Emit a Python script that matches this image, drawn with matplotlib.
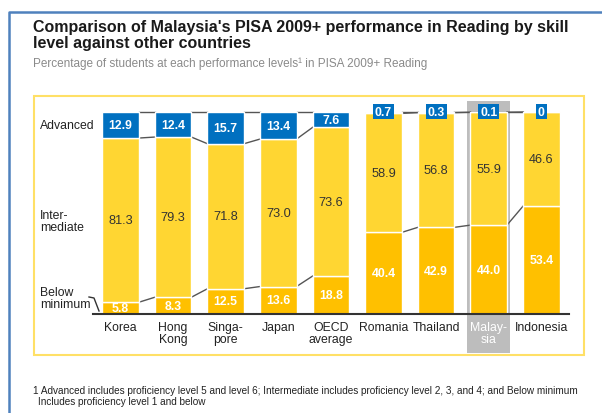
import matplotlib.pyplot as plt
from matplotlib.patches import Rectangle

plt.rcParams['font.family'] = ['Liberation Sans', 'DejaVu Sans']

countries = ["Korea", "Hong\nKong", "Singa-\npore", "Japan", "OECD\naverage",
             "Romania", "Thailand", "Malay-\nsia", "Indonesia"]
below = [5.8, 8.3, 12.5, 13.6, 18.8, 40.4, 42.9, 44.0, 53.4]
inter = [81.3, 79.3, 71.8, 73.0, 73.6, 58.9, 56.8, 55.9, 46.6]
advanced = [12.9, 12.4, 15.7, 13.4, 7.6, 0.7, 0.3, 0.1, 0]
adv_labels = ["12.9", "12.4", "15.7", "13.4", "7.6", "0.7", "0.3", "0.1", "0"]
row_labels = ["Advanced", "Inter-\nmediate", "Below\nminimum"]
highlight = 7   # Malaysia
gap_after = 4   # no connectors between OECD and Romania

title1 = "Comparison of Malaysia's PISA 2009+ performance in Reading by skill"
title2 = "level against other countries"
subtitle = "Percentage of students at each performance levels\u00b9 in PISA 2009+ Reading"
foot1 = ("1 Advanced includes proficiency level 5 and level 6; Intermediate includes "
         "proficiency level 2, 3, and 4; and Below minimum")
foot2 = "Includes proficiency level 1 and below"

BLUE = '#0070C0'
YEL = '#FFD632'
GOLD = '#FFC000'
GRAY = '#BDBDBD'

W, H = 602, 414
fig = plt.figure(figsize=(6.02, 4.14), dpi=100)


def fx(x):
    return x / W


def fy(y):
    return 1 - y / H


# outer frame (blue) and chart box (light yellow)
fig.add_artist(plt.Line2D([fx(8.5), fx(8.5), 1], [0, fy(12.5), fy(12.5)],
                          color='#4F81BD', lw=1.8, transform=fig.transFigure))
fig.add_artist(Rectangle((fx(34), fy(356)), fx(584) - fx(34), (356 - 97) / H,
                         fill=False, ec='#FFE066', lw=1.5, transform=fig.transFigure))

# bar axes: baseline at y=315px, 100% at y=113px, bar pitch 52.6px
ax = fig.add_axes([fx(34), fy(315), fx(584) - fx(34), (315 - 113) / H])
ax.set_xlim((34 - 120.5) / 52.6, (584 - 120.5) / 52.6)
ax.set_ylim(0, 100)
ax.axis('off')

x = list(range(len(countries)))
w = 0.694

# Malaysia highlight
ax.add_patch(Rectangle((highlight - 0.41, -19.3), 0.82, 124.8, fc=GRAY, ec='none',
                       zorder=0, clip_on=False))

ax.bar(x, below, w, color=GOLD, ec='white', lw=1, zorder=2)
ax.bar(x, inter, w, bottom=below, color=YEL, ec='white', lw=1, zorder=2)
bot2 = [b + m for b, m in zip(below, inter)]
ax.bar(x, advanced, w, bottom=bot2, color=BLUE, ec='white', lw=1, zorder=2)

# connectors
for i in range(len(x) - 1):
    if i == gap_after:
        continue
    for a, b in [(below[i], below[i + 1]), (bot2[i], bot2[i + 1]), (100, 100)]:
        ax.plot([i + w / 2, i + 1 - w / 2], [a, b], color='#555555', lw=1,
                zorder=1, clip_on=False)

# value labels
for i in x:
    ax.text(i, below[i] / 2, f"{below[i]:.1f}", ha='center', va='center',
            color='white', fontsize=8.8, fontweight='bold', zorder=4)
    ax.text(i, below[i] + inter[i] / 2, f"{inter[i]:.1f}", ha='center', va='center',
            color='#333333', fontsize=9.2, zorder=4)
    if advanced[i] >= 5:
        ax.text(i, bot2[i] + advanced[i] / 2, adv_labels[i], ha='center',
                va='center', color='white', fontsize=8.8, fontweight='bold', zorder=4)
    else:
        ax.text(i, 100.2, adv_labels[i], ha='center', va='center', color='white',
                fontsize=8.8, fontweight='bold', zorder=4, clip_on=False,
                bbox=dict(boxstyle='square,pad=0.15', fc=BLUE, ec='none'))

# baseline
ax.plot([-0.523, 8.527], [0, 0], color='#333333', lw=1.5, zorder=5, clip_on=False)

# category labels
for i, name in enumerate(countries):
    ax.text(i, -3.4, name, ha='center', va='top', fontsize=8.8, linespacing=1.05,
            color='white' if i == highlight else '#222222', clip_on=False)

# row labels
fig.text(fx(40), fy(126), row_labels[0], ha='left', va='center', fontsize=8.8,
         color='#222222')
fig.text(fx(40), fy(222), row_labels[1], ha='left', va='center', fontsize=8.8,
         color='#222222', linespacing=1.05)
fig.text(fx(40), fy(299), row_labels[2], ha='left', va='center', fontsize=8.8,
         color='#222222', linespacing=1.05)
fig.add_artist(plt.Line2D([fx(89), fx(94), fx(99)], [fy(298), fy(299), fy(312)],
                          color='#333333', lw=1, transform=fig.transFigure))

# titles and footnote
fig.text(fx(33), fy(31.7), title1, ha='left', va='baseline', fontsize=11.5,
         fontweight='bold', color='#1a1a1a')
fig.text(fx(33), fy(47.7), title2, ha='left', va='baseline', fontsize=11.5,
         fontweight='bold', color='#1a1a1a')
fig.text(fx(33), fy(63.5), subtitle, ha='left', va='center', fontsize=8.5,
         color='#8a8a8a')
fig.text(fx(33), fy(391), foot1, ha='left', va='center', fontsize=7.2,
         color='#222222')
fig.text(fx(38), fy(402), foot2, ha='left', va='center', fontsize=7.2,
         color='#222222')

fig.savefig('out.png', dpi=100)
